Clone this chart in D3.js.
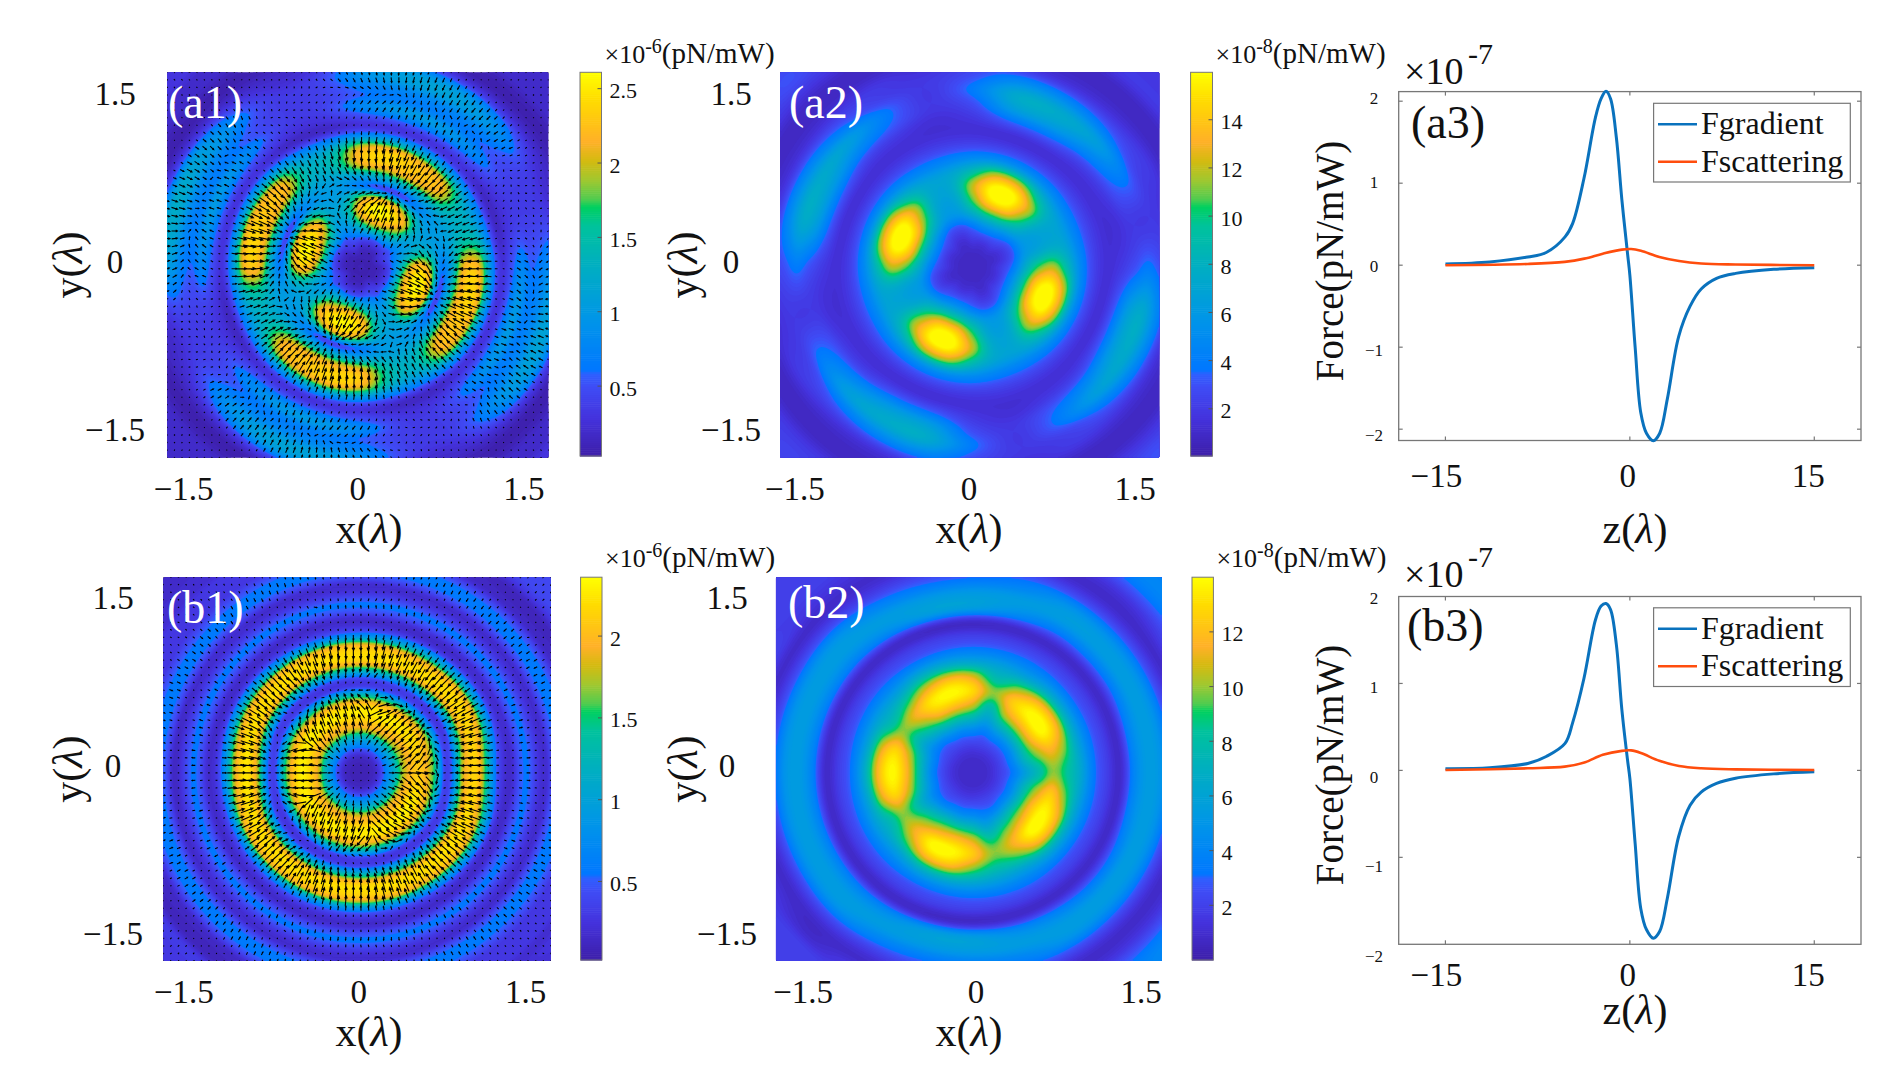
<!DOCTYPE html>
<meta charset="utf-8">
<script src="https://d3js.org/d3.v7.min.js"></script>
<style>
  body { margin: 0; background: #fff; }
  text { font-family: "Liberation Serif", serif; fill: #111; }
</style>
<body>
<svg id="fig" width="1893" height="1089"></svg>
<script>
// colormap of the colorbars, position along the bar -> colour
var cmapStops = [0, .1, .18, .215, .225, .35, .5, .6, .65, .67, .72, .77, .82, .88, .93, 1];
var cmapColors = ["#3d1ea8", "#4433dd", "#3f4cf5", "#2f60ff", "#0077ff", "#0094ea", "#00afc0", "#00c29c",
  "#00d060", "#50cc50", "#a0c830", "#d4ba10", "#ffb028", "#ffc810", "#ffdc00", "#ffff00"];

// heat maps are read off the picture on polar tables around the beam axis:
// one row per angle (0, 15, 30.. deg, counter clockwise), one column per radius
// (a1, b1 in 1e-7 pN/mW, a2, b2 in 1e-8 pN/mW)
var a1RadiusStep = 0.09;
var a1Field = [
  [1,1,2,6,14,21,23,18,7,11,20,23,20,9,3,5,8,6,7,9,8,4,1,1,2,2,2,2],
  [1,1,3,6,10,13,14,12,10,11,14,15,13,7,2,3,4,4,4,4,3,2,1,1,2,2,2,2],
  [1,1,3,5,9,11,12,11,10,11,13,14,12,7,2,3,4,4,4,4,3,2,1,1,2,2,2,2],
  [1,1,2,6,13,19,21,16,8,11,19,22,19,9,3,5,8,6,7,9,7,3,1,1,2,2,2,2],
  [1,1,2,6,16,23,25,20,5,12,21,23,21,10,3,6,10,7,8,11,10,4,1,1,2,2,2,2],
  [1,1,2,6,17,24,26,21,5,12,21,24,22,10,3,6,10,7,8,11,10,4,1,1,2,2,2,2],
  [1,1,2,6,14,21,23,18,7,11,20,23,20,9,3,5,8,6,7,9,8,4,1,1,2,2,2,2],
  [1,1,3,6,10,13,14,12,10,11,14,15,13,7,2,3,4,4,4,4,3,2,1,1,2,2,2,2],
  [1,1,3,5,9,11,12,11,10,11,13,14,12,7,2,3,4,4,4,4,3,2,1,1,2,2,2,2],
  [1,1,2,6,13,19,21,16,8,11,19,22,19,9,3,5,8,6,7,9,7,3,1,1,2,2,3,3],
  [1,1,2,6,16,23,25,20,5,12,21,23,21,10,3,6,10,7,8,11,11,4,1,1,2,2,2,2],
  [1,1,2,6,17,24,26,21,5,12,21,24,22,10,3,6,10,7,8,12,12,5,1,1,2,2,2,2],
  [1,1,2,6,14,21,23,18,7,11,20,23,20,9,3,5,8,6,7,10,9,4,1,1,2,2,2,2],
  [1,1,3,6,10,13,14,12,10,11,14,15,13,7,2,3,4,4,4,4,3,2,1,1,2,2,2,2],
  [1,1,3,5,9,11,12,11,10,11,13,14,12,7,2,3,4,4,4,4,3,2,1,1,2,2,2,2],
  [1,1,2,6,13,19,21,16,8,11,19,22,19,9,3,5,8,6,7,9,7,3,1,1,2,2,2,2],
  [1,1,2,6,16,23,25,20,5,12,21,23,21,10,3,6,10,7,8,11,10,4,1,1,2,2,2,2],
  [1,1,2,6,17,24,26,21,5,12,21,24,22,10,3,6,10,7,8,11,10,4,1,1,2,2,2,2],
  [1,1,2,6,14,21,23,18,7,11,20,23,20,9,3,5,8,6,7,9,8,4,1,1,2,2,2,2],
  [1,1,3,6,10,13,14,12,10,11,14,15,13,7,2,3,4,4,4,4,3,2,1,1,2,2,2,2],
  [1,1,3,5,9,11,12,11,10,11,13,14,12,7,2,3,4,4,4,4,3,2,1,1,2,2,2,2],
  [1,1,2,6,13,19,21,16,8,11,19,22,19,9,3,5,8,6,7,9,7,3,1,1,2,2,3,3],
  [1,1,2,6,16,23,25,20,5,12,21,23,21,10,3,6,10,7,8,11,10,4,1,1,2,2,2,2],
  [1,1,2,6,17,24,26,21,5,12,21,24,22,10,3,6,10,7,8,11,10,4,1,1,2,2,2,2]
];

var a2RadiusStep = 0.122;
var a2Field = [
  [1,1,2,4,8,11,12,9,5,2.5,1.5,2,3,4,3,2,1,1,2,2,2],
  [1,1,1.5,3,6,7,7.5,7,4.5,2.5,1.5,1.5,2,2,2,1.5,1,1,2,2,2],
  [1,1,1.5,3,6,7,7.5,7,4.5,2.5,1.5,2,3.5,4,2.5,2,1,1,2,2,2],
  [1,1,2,4,8,11,12,9,5,2.5,1.5,2.5,5,6.5,4,2,1,1,2,2,2],
  [1,1,2,5,10,15,16,12,5.5,2.5,1.5,3.5,6.5,7.5,5,2,1,1,2,2,2],
  [1,1,2,5,10,15,16,12,5.5,2.5,1.5,3.5,6.5,7.5,5,2,1,1,2,2,2],
  [1,1,2,4,8,11,12,9,5,2.5,1.5,2,3,4,3,2,1,1,2,2,2],
  [1,1,1.5,3,6,7,7.5,7,4.5,2.5,1.5,1.5,2,2,2,1.5,1,1,2,2,2],
  [1,1,1.5,3,6,7,7.5,7,4.5,2.5,1.5,2,3.5,4,2.5,2,1,1,2,2,2],
  [1,1,2,4,8,11,12,9,5,2.5,1.5,2.5,5,6.5,4,2,1,1,2,3,3],
  [1,1,2,5,10,15,16,12,5.5,2.5,1.5,3.5,6.5,7.5,5,2,1,1,2,2,2],
  [1,1,2,5,10,15,16,12,5.5,2.5,1.5,3.5,6.5,7.5,5,2,1,1,2,2,2],
  [1,1,2,4,8,11,12,9,5,2.5,1.5,2,3,4,3,2,1,1,2,2,2],
  [1,1,1.5,3,6,7,7.5,7,4.5,2.5,1.5,1.5,2,2,2,1.5,1,1,2,2,2],
  [1,1,1.5,3,6,7,7.5,7,4.5,2.5,1.5,2,3.5,4,2.5,2,1,1,2,2,2],
  [1,1,2,4,8,11,12,9,5,2.5,1.5,2.5,5,6.5,4,2,1,1,2,2.5,2.5],
  [1,1,2,5,10,15,16,12,5.5,2.5,1.5,3.5,6.5,7.5,5,2,1,1,2,2,2],
  [1,1,2,5,10,15,16,12,5.5,2.5,1.5,3.5,6.5,7.5,5,2,1,1,2,2,2],
  [1,1,2,4,8,11,12,9,5,2.5,1.5,2,3,4,3,2,1,1,2,2,2],
  [1,1,1.5,3,6,7,7.5,7,4.5,2.5,1.5,1.5,2,2,2,1.5,1,1,2,2,2],
  [1,1,1.5,3,6,7,7.5,7,4.5,2.5,1.5,2,3.5,4,2.5,2,1,1,2,2,2],
  [1,1,2,4,8,11,12,9,5,2.5,1.5,2.5,5,6.5,4,2,1,1,2,3,3],
  [1,1,2,5,10,15,16,12,5.5,2.5,1.5,3.5,6.5,7.5,5,2,1,1,2,2,2],
  [1,1,2,5,10,15,16,12,5.5,2.5,1.5,3.5,6.5,7.5,5,2,1,1,2,2,2]
];

var b1RadiusStep = 0.076;
var b1Field = [
  [1,1,2,6,11,17,20,21,19,14,4,6,17,21,21,14,6,2.5,2,5,5.5,3,2,5,6,5,2,3,3,1.5,2,3,3],
  [1,1,2,6,11,17,20,22,21,16,6,3,11,20,22,20,11,4,2,5,5.5,3,2,5,6,5,2,1.5,1.5,3,4,4,4],
  [1,1,2,6,11,18,21,23,21,15,5,4,13,21,22,19,10,3,2,5,5.5,3,2,5,6,5,2,1.5,1.5,3,4,4,4],
  [1,1,2,6,11,18,21,23,21,14,4,4,13,21,22,19,8,3,2,5,5.5,3,2,5,6,5,2,3,3,1.5,2,3,3],
  [1,1,2,6,11,18,21,23,21,14,4,4,13,21,22,19,8,3,2,5,5.5,3,2,5,6,5,3,3,3,2,2,2,2],
  [1,1,2,6,11,18,21,23,21,15,5,4,13,21,22,19,10,3,2,5,5.5,3,2,5,6,5,3,3,3,2,2,2,2],
  [1,1,2,6,12,19,22,23,20,14,4,6,17,22,22,17,8,3,2,5,5.5,3,1.5,5,6,5,2,3,3,1.5,2,3,3],
  [1,1,2,6,11,18,21,23,21,14,4,4,13,21,22,19,8,3,2,5,5.5,3,2,5,6,5,2,1.5,1.5,3,3,3,3],
  [1,1,2,6,11,18,21,23,21,14,4,4,13,21,22,19,8,3,2,5,5.5,3,2,5,6,5,2,1.5,1.5,3,3,3,3],
  [1,1,2,6,11,18,21,23,21,14,4,4,13,21,22,19,8,3,2,5,5.5,3,2,5,6,5,2,3,3,1.5,2,3,3],
  [1,1,2,6,11,18,21,23,21,14,4,4,13,21,22,19,8,3,2,5,5.5,3,2,5,6,5,3,3,3,2,2,2,2],
  [1,1,2,6,11,18,21,23,21,15,5,4,13,21,22,19,10,3,2,5,5.5,3,2,5,6,5,3,3,3,2,3,3,3]
];

var b2RadiusStep = 0.122;
var b2Field = [
  [1,1,2,3.5,6,8,10,8.5,6.5,3.5,2,1,4,5.5,5,2.5,1,2,3,3,3],
  [1,1,2,4,7.5,10,11.5,10,6.5,3.5,2,1,4,5.5,5,2.5,1,2,3,3,3],
  [1,1,2,4,8,12,14,12,7,3.5,2,1,3.5,5.5,5,2.5,1,2,3,4,4],
  [1,1,2,4,8,12,14,12,7,3.5,2,1,3.5,5.5,5,2.5,1,1.5,3,4,4],
  [1,1,2,4,7.5,11,12.5,10,6,3.5,2,1,3.5,5.5,5,2.5,1,1.5,3,4,4],
  [1,1,2,3.5,6,8,10,8,6,3.5,2,1,4.5,5.5,4,2.5,1,2,3,3,3],
  [1,1,2,4,7.5,11,13,11,6.5,3.5,2,1,5.5,5.5,3.5,2,1,2,3,3,3],
  [1,1,2,4,8,12,14,12,7,3.5,2,1,5.5,5.5,3.5,2,1,2,2,2,2],
  [1,1,2,4,8,12,13.5,11,7,3.5,2,1,4.5,5.5,4,2,1,1.5,2,2,2],
  [1,1,2,3.5,7,10,11.5,9,6,3.5,2,1,4,5.5,5,2.5,1,1.5,2,2,2],
  [1,1,2,3.5,6,8.5,10,8,6,3.5,2,1,4,5.5,5,2.5,1,2,2,2,2],
  [1,1,2,4,7.5,11,13,11,6.5,3.5,2,1,4,5.5,5,2.5,1,2,3,3,3],
  [1,1,2,4,8,12,14,12,7,3.5,2,1,4,5.5,5,2.5,1,2,3,3,3],
  [1,1,2,4,7.5,11,13,11,6.5,3.5,2,1,4,5.5,5,2.5,1,2,3,3,3],
  [1,1,2,3.5,6,8.5,10,8,6,3.5,2,1,4,5.5,5,2.5,1,1.5,2,2,2],
  [1,1,2,3.5,7,10,11.5,9.5,6,3.5,2,1,4,5.5,5,2.5,1,1,2,2,2],
  [1,1,2,4,8,11.5,14,12,7,3.5,2,1,4.5,5.5,4,2,1,2,2,2,2],
  [1,1,2,4,8,12,14,12,7,3.5,2,1,5.5,5.5,3.5,2,1,2,3,3,3],
  [1,1,2,4,7.5,11,12.5,10,6.5,3.5,2,1,5.5,5.5,3.5,2,1,2,3,3,3],
  [1,1,2,3.5,6,8.5,10,8.5,6,3.5,2,1,4.5,5.5,4,2.5,1,2,3,3,3],
  [1,1,2,3.5,7,10,11.5,9.5,6,3.5,2,1,4,5.5,5,2.5,1,1.5,3,3,3],
  [1,1,2,4,8,11.5,14,12,7,3.5,2,1,3.5,5.5,5,2.5,1,1.5,3,4,4],
  [1,1,2,4,8,12,14,12,7,3.5,2,1,3.5,5.5,5,2.5,1,1.5,3,4,4],
  [1,1,2,4,7.5,10.5,12.5,10,6.5,3.5,2,1,4,5.5,5,2.5,1,2,3,3,3]
];

// force curves
var a3GradZ = [-15,-11.4,-8.3,-6.8,-5.27,-4.65,-3.73,-2.8,-2.34,-1.94,-1.57,-1.1,-.65,-.18,0,.43,.89,1.35,1.91,2.43,3.05,3.97,4.9,5.8,7.05,8.6,11.7,15];
var a3Grad = [.015,.04,.1,.155,.345,.51,1.06,1.8,2.03,2.12,2.03,1.56,.8,.13,-.12,-1,-1.8,-2.05,-2.14,-2.05,-1.63,-.87,-.5,-.29,-.16,-.1,-.05,-.03];
var b3Grad = [.02,.03,.08,.16,.31,.55,1.06,1.73,1.89,1.92,1.85,1.45,.7,.11,-.09,-.84,-1.59,-1.83,-1.93,-1.85,-1.47,-.76,-.4,-.25,-.15,-.09,-.04,-.016];
var scatZ = [-15,-8.3,-5.3,-3.7,-2.2,-.65,.1,.9,2.4,4,5.8,8.6,15];
var a3Scat = [0,.015,.04,.08,.14,.19,.197,.175,.1,.05,.02,.008,0];
var b3Scat = [.004,.024,.043,.09,.18,.225,.23,.2,.11,.05,.024,.012,.004];

var mapTicks = [-1.5, 0, 1.5];
var zTicks = [-15, 0, 15];
var forceTicks = [-2, -1, 0, 1, 2];
var a1BarTicks = [0.5, 1, 1.5, 2, 2.5];
var a2BarTicks = [2, 4, 6, 8, 10, 12, 14];
var b1BarTicks = [0.5, 1, 1.5, 2];
var b2BarTicks = [2, 4, 6, 8, 10, 12];

var svg = d3.select("#fig");
var cmap = d3.scaleLinear().domain(cmapStops).range(cmapColors).clamp(true);

function minusLabel(v) { return String(v).replace("-", "\u2212"); }

function catmull(a, b, c, d, t) {
  return .5 * (2 * b + (c - a) * t + (2 * a - 5 * b + 4 * c - d) * t * t + (3 * b - a - 3 * c + d) * t * t * t);
}

// value of a polar table at (x, y), spline through the table in radius and angle
function fieldAt(table, step, center, x, y) {
  var dx = x - center[0], dy = y - center[1];
  var r = Math.sqrt(dx * dx + dy * dy) / step;
  var na = table.length, nr = table[0].length;
  var a = (Math.atan2(dy, dx) + 2 * Math.PI) % (2 * Math.PI) / (2 * Math.PI) * na;
  var a0 = Math.floor(a), r0 = Math.min(Math.floor(r), nr - 2), tr = Math.min(r - r0, 1);
  var vals = [-1, 0, 1, 2].map(function(k) {
    var row = table[(a0 + k + na) % na];
    return catmull(row[Math.max(r0 - 1, 0)], row[r0], row[r0 + 1], row[Math.min(r0 + 2, nr - 1)], tr);
  });
  return catmull(vals[0], vals[1], vals[2], vals[3], a - a0);
}

function heatPanel(c) {
  var sx = d3.scaleLinear().domain(c.xDomain).range([c.left, c.right]);
  var sy = d3.scaleLinear().domain(c.yDomain).range([c.bottom, c.top]);
  var color = function(v) { return cmap((v - c.barDomain[0]) / (c.barDomain[1] - c.barDomain[0])); };
  var n = 170;
  var cellX = d3.scaleLinear().domain([0, n]).range(c.xDomain);
  var cellY = d3.scaleLinear().domain([0, n]).range([c.yDomain[1], c.yDomain[0]]);
  var values = new Array(n * n);
  for (var j = 0; j < n; j++) for (var i = 0; i < n; i++) {
    values[j * n + i] = fieldAt(c.table, c.step, c.center, cellX(i + .5), cellY(j + .5));
  }
  var thresholds = d3.range(1, 80).map(function(k) {
    return c.barDomain[0] + (c.barDomain[1] - c.barDomain[0]) * k / 80;
  });
  var toPlot = d3.geoPath(d3.geoTransform({ point: function(x, y) {
    this.stream.point(c.left + (c.right - c.left) * x / n, c.top + (c.bottom - c.top) * y / n);
  }}));

  var clipId = "clip-" + c.name;
  svg.append("clipPath").attr("id", clipId).append("rect")
    .attr("x", c.left).attr("y", c.top).attr("width", c.right - c.left).attr("height", c.bottom - c.top);
  var g = svg.append("g").attr("clip-path", "url(#" + clipId + ")");
  g.append("rect").attr("x", c.left).attr("y", c.top).attr("width", c.right - c.left).attr("height", c.bottom - c.top)
    .attr("fill", color(c.barDomain[0]));
  g.selectAll("path.level").data(d3.contours().size([n, n]).thresholds(thresholds)(values))
    .enter().append("path").attr("class", "level")
    .attr("d", toPlot).attr("fill", function(d) { return color(d.value); });

  // force arrows: direction follows the slope of the matching intensity table, length follows this panel's field
  if (c.arrowsFrom) {
    var nArrow = 52, arrowPath = "", h = .02, src = c.arrowsFrom;
    var ax = d3.scaleLinear().domain([0, nArrow - 1]).range(c.xDomain);
    var ay = d3.scaleLinear().domain([0, nArrow - 1]).range(c.yDomain);
    for (var q = 0; q < nArrow; q++) for (var p = 0; p < nArrow; p++) {
      var x = ax(p), y = ay(q);
      var gx = fieldAt(src.table, src.step, src.center, x + h, y) - fieldAt(src.table, src.step, src.center, x - h, y);
      var gy = fieldAt(src.table, src.step, src.center, x, y + h) - fieldAt(src.table, src.step, src.center, x, y - h);
      var mag = Math.max(fieldAt(c.table, c.step, c.center, x, y) / c.barDomain[1], 0);
      var len = 0.8 + 13 * Math.pow(mag, 1.2);
      var ang = Math.atan2(-gy, gx);
      var ux = Math.cos(ang), uy = Math.sin(ang);
      var x0 = sx(x) - ux * len / 2, y0 = sy(y) - uy * len / 2;
      var x1 = x0 + ux * len, y1 = y0 + uy * len, hd = Math.min(len * .3, 2.6);
      arrowPath += "M" + x0.toFixed(1) + "," + y0.toFixed(1) + "L" + x1.toFixed(1) + "," + y1.toFixed(1);
      if (len > 3) {
        arrowPath += "M" + (x1 - hd * (ux + uy * .5)).toFixed(1) + "," + (y1 - hd * (uy - ux * .5)).toFixed(1) + "L" + x1.toFixed(1) + "," + y1.toFixed(1)
          + "L" + (x1 - hd * (ux - uy * .5)).toFixed(1) + "," + (y1 - hd * (uy + ux * .5)).toFixed(1);
      }
    }
    g.append("path").attr("d", arrowPath).attr("fill", "none").attr("stroke", "#000").attr("stroke-width", 1.1);
  }

  svg.append("text").attr("x", c.tagX).attr("y", c.tagY).attr("font-size", 46).style("fill", "#fff").text(c.tag);

  svg.selectAll("text.xt-" + c.name).data(mapTicks).enter().append("text").attr("class", "xt-" + c.name)
    .attr("x", function(d) { return sx(d) + (d < 0 ? -8 : 0); }).attr("y", c.bottom + 42)
    .attr("text-anchor", "middle").attr("font-size", 33).text(minusLabel);
  svg.selectAll("text.yt-" + c.name).data(mapTicks).enter().append("text").attr("class", "yt-" + c.name)
    .attr("x", c.yTickX).attr("y", function(d) { return sy(d) - 3; })
    .attr("text-anchor", "middle").attr("dominant-baseline", "central").attr("font-size", 33).text(minusLabel);

  var xl = svg.append("text").attr("x", c.xLabelX).attr("y", c.bottom + 85).attr("text-anchor", "middle").attr("font-size", 42);
  xl.append("tspan").text("x(");
  xl.append("tspan").attr("font-style", "italic").text("\u03bb");
  xl.append("tspan").text(")");
  var yl = svg.append("text").attr("transform", "translate(" + c.yLabelX + "," + (c.top + c.bottom) / 2 + ") rotate(-90)")
    .attr("text-anchor", "middle").attr("font-size", 42);
  yl.append("tspan").text("y(");
  yl.append("tspan").attr("font-style", "italic").text("\u03bb");
  yl.append("tspan").text(")");

  // colorbar, c.barUnit turns the table's units into the labelled ones
  var bar = d3.scaleLinear().domain(c.barDomain.map(function(v) { return v / c.barUnit; })).range([c.barBottom, c.top]);
  var steps = d3.range(0, 200);
  svg.selectAll("rect.bar-" + c.name).data(steps).enter().append("rect").attr("class", "bar-" + c.name)
    .attr("x", c.barLeft).attr("width", c.barRight - c.barLeft)
    .attr("y", function(k) { return bar((c.barDomain[0] + (c.barDomain[1] - c.barDomain[0]) * (k + 1) / 200) / c.barUnit); })
    .attr("height", (c.barBottom - c.top) / 200 + .6)
    .attr("fill", function(k) { return cmap((k + .5) / 200); });
  svg.append("rect").attr("x", c.barLeft).attr("y", c.top).attr("width", c.barRight - c.barLeft).attr("height", c.barBottom - c.top)
    .attr("fill", "none").attr("stroke", "#777").attr("stroke-width", 1);
  svg.selectAll("line.bt-" + c.name).data(c.barTicks).enter().append("line").attr("class", "bt-" + c.name)
    .attr("x1", c.barRight - 4).attr("x2", c.barRight)
    .attr("y1", bar).attr("y2", bar).attr("stroke", "#555");
  svg.selectAll("text.bl-" + c.name).data(c.barTicks).enter().append("text").attr("class", "bl-" + c.name)
    .attr("x", c.barRight + 8).attr("y", function(d) { return bar(d) + 2; })
    .attr("dominant-baseline", "central").attr("font-size", 22).text(String);

  var head = svg.append("text").attr("x", c.barRight + 3).attr("y", c.headY).attr("font-size", 26);
  head.append("tspan").text("\u00d710");
  head.append("tspan").attr("font-size", 20).attr("dy", -10).text(c.exponent);
  head.append("tspan").attr("font-size", 29).attr("dy", 10).text("(pN/mW)");
}

function forcePanel(c) {
  var sx = d3.scaleLinear().domain([-18.8, 18.8]).range([c.left, c.right]);
  var sy = d3.scaleLinear().domain(c.yDomain).range([c.bottom, c.top]);
  var labelY = d3.scaleLinear().domain([-2, 2]).range(c.labelRange);

  svg.append("rect").attr("x", c.left).attr("y", c.top).attr("width", c.right - c.left).attr("height", c.bottom - c.top)
    .attr("fill", "#fff").attr("stroke", "#777").attr("stroke-width", 1.3);

  var tick = svg.append("g").attr("stroke", "#777").attr("stroke-width", 1.2);
  zTicks.forEach(function(v) {
    tick.append("line").attr("x1", sx(v)).attr("x2", sx(v)).attr("y1", c.bottom).attr("y2", c.bottom - 4);
    tick.append("line").attr("x1", sx(v)).attr("x2", sx(v)).attr("y1", c.top).attr("y2", c.top + 4);
  });
  forceTicks.forEach(function(v) {
    if (sy(v) <= c.top + .5 || sy(v) >= c.bottom - .5) return;
    tick.append("line").attr("x1", c.left).attr("x2", c.left + 4).attr("y1", sy(v)).attr("y2", sy(v));
    tick.append("line").attr("x1", c.right).attr("x2", c.right - 4).attr("y1", sy(v)).attr("y2", sy(v));
  });

  var line = d3.line().curve(d3.curveCatmullRom.alpha(.5))
    .x(function(d) { return sx(d[0]); }).y(function(d) { return sy(d[1]); });
  svg.append("path").attr("d", line(d3.zip(a3GradZ, c.grad))).attr("fill", "none").attr("stroke", "#0a72bd").attr("stroke-width", 3);
  svg.append("path").attr("d", line(d3.zip(scatZ, c.scat))).attr("fill", "none").attr("stroke", "#ff4d0d").attr("stroke-width", 2.6);

  svg.append("rect").attr("x", 1653.6).attr("y", c.legendTop).attr("width", 196.7).attr("height", 78.7)
    .attr("fill", "#fff").attr("stroke", "#777").attr("stroke-width", 1.2);
  [["Fgradient", "#0a72bd", 21], ["Fscattering", "#ff4d0d", 58.5]].forEach(function(e) {
    svg.append("line").attr("x1", 1658).attr("x2", 1697).attr("y1", c.legendTop + e[2]).attr("y2", c.legendTop + e[2])
      .attr("stroke", e[1]).attr("stroke-width", 2.6);
    svg.append("text").attr("x", 1701).attr("y", c.legendTop + e[2] + 10).attr("font-size", 32).text(e[0]);
  });

  svg.append("text").attr("x", c.tagX).attr("y", c.tagY).attr("font-size", 46).text(c.tag);

  svg.selectAll("text.zt-" + c.name).data(zTicks).enter().append("text").attr("class", "zt-" + c.name)
    .attr("x", function(d) { return sx(d) + (d < 0 ? -9 : d > 0 ? -6 : -2); }).attr("y", c.zTickY)
    .attr("text-anchor", "middle").attr("dominant-baseline", "central").attr("font-size", 33).text(minusLabel);
  svg.selectAll("text.ft-" + c.name).data(forceTicks).enter().append("text").attr("class", "ft-" + c.name)
    .attr("x", 1374).attr("y", labelY)
    .attr("text-anchor", "middle").attr("dominant-baseline", "central").attr("font-size", 17).text(minusLabel);

  var zl = svg.append("text").attr("x", 1635).attr("y", c.zLabelY).attr("text-anchor", "middle").attr("font-size", 42);
  zl.append("tspan").text("z(");
  zl.append("tspan").attr("font-style", "italic").text("\u03bb");
  zl.append("tspan").text(")");

  svg.append("text").attr("transform", "translate(1343," + c.forceLabelY + ") rotate(-90)")
    .attr("text-anchor", "middle").attr("font-size", 39).text("Force(pN/mW)");

  svg.append("text").attr("x", 1404).attr("y", c.scaleY).attr("font-size", 38).text("\u00d710");
  svg.append("text").attr("x", 1468).attr("y", c.scaleY - 20).attr("font-size", 30).text("-7");
}

var a2Src = { table: a2Field, step: a2RadiusStep, center: [.03, -.02] };
var b2Src = { table: b2Field, step: b2RadiusStep, center: [-.03, -.03] };

heatPanel({ name: "a1", tag: "(a1)", tagX: 168, tagY: 118, table: a1Field, step: a1RadiusStep, center: [.035, -.02], arrowsFrom: a2Src,
  left: 167, right: 548.5, top: 72.3, bottom: 457.7, xDomain: [-1.723, 1.723], yDomain: [-1.72, 1.72],
  yTickX: 115, xLabelX: 369, yLabelX: 82, barLeft: 580, barRight: 601.5, barBottom: 456,
  barDomain: [.3, 26.1], barUnit: 10, barTicks: a1BarTicks, exponent: "-6", headY: 63 });
heatPanel({ name: "a2", tag: "(a2)", tagX: 789, tagY: 118, table: a2Field, step: a2RadiusStep, center: a2Src.center,
  left: 780, right: 1159.4, top: 72.3, bottom: 457.7, xDomain: [-1.707, 1.72], yDomain: [-1.72, 1.72],
  yTickX: 731, xLabelX: 969, yLabelX: 697, barLeft: 1190.6, barRight: 1212.5, barBottom: 456,
  barDomain: [.04, 15.97], barUnit: 1, barTicks: a2BarTicks, exponent: "-8", headY: 63 });
heatPanel({ name: "b1", tag: "(b1)", tagX: 167, tagY: 622.6, table: b1Field, step: b1RadiusStep, center: [.01, -.03], arrowsFrom: b2Src,
  left: 163.3, right: 551, top: 577.2, bottom: 961, xDomain: [-1.757, 1.729], yDomain: [-1.71, 1.71],
  yTickX: 113, xLabelX: 369, yLabelX: 82, barLeft: 580.6, barRight: 602, barBottom: 960,
  barDomain: [.2, 23.6], barUnit: 10, barTicks: b1BarTicks, exponent: "-6", headY: 567 });
heatPanel({ name: "b2", tag: "(b2)", tagX: 788, tagY: 617.5, table: b2Field, step: b2RadiusStep, center: b2Src.center,
  left: 775.9, right: 1162, top: 577.2, bottom: 961, xDomain: [-1.82, 1.69], yDomain: [-1.71, 1.71],
  yTickX: 727, xLabelX: 969, yLabelX: 697, barLeft: 1192, barRight: 1213.4, barBottom: 960,
  barDomain: [0, 14], barUnit: 1, barTicks: b2BarTicks, exponent: "-8", headY: 567 });

forcePanel({ name: "a3", tag: "(a3)", tagX: 1411, tagY: 138, grad: a3Grad, scat: a3Scat,
  left: 1398.7, right: 1861, top: 91.6, bottom: 440.5, yDomain: [-2.138, 2.117], labelRange: [435, 98],
  legendTop: 103.3, zTickY: 476, zLabelY: 543, forceLabelY: 261, scaleY: 84 });
forcePanel({ name: "b3", tag: "(b3)", tagX: 1407, tagY: 641, grad: b3Grad, scat: b3Scat,
  left: 1398.7, right: 1861, top: 596.5, bottom: 944.3, yDomain: [-2, 2], labelRange: [956.6, 598],
  legendTop: 607.8, zTickY: 975, zLabelY: 1024, forceLabelY: 765, scaleY: 587 });
</script>
</body>
